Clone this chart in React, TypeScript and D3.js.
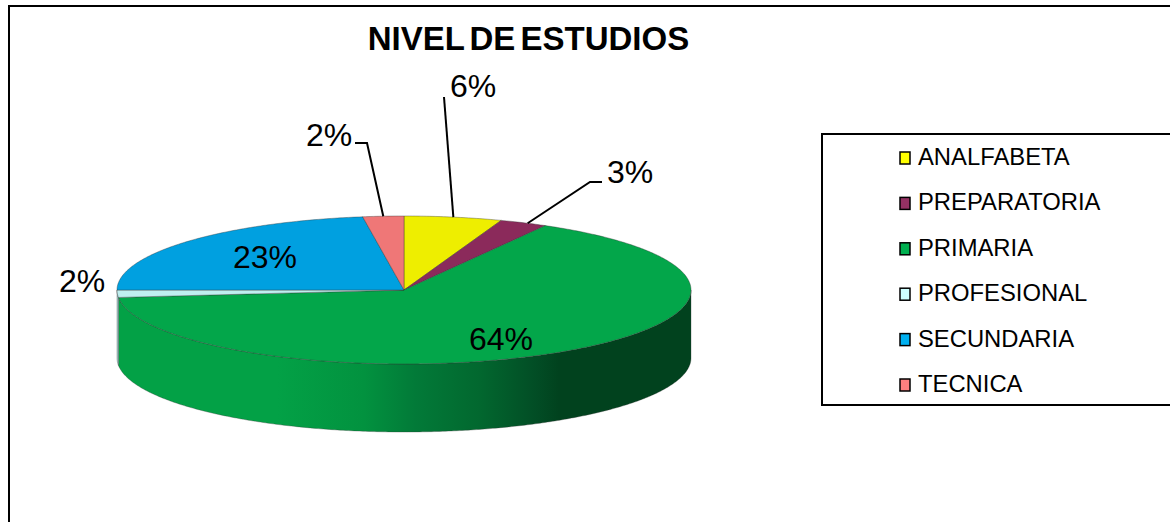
import React from 'react';
import * as d3 from 'd3';

const categories = ['ANALFABETA', 'PREPARATORIA', 'PRIMARIA', 'PROFESIONAL', 'SECUNDARIA', 'TECNICA'];
const values = [5.5, 2.7, 65.2, 1.6, 22.7, 2.3];
const percentLabels = ['6%', '3%', '64%', '2%', '23%', '2%'];
const topColors = ['#EEEE00', '#8B2A5B', '#03A64A', '#BFEFF0', '#00A0E0', '#EF7777'];
const legendColors = ['#FFFF00', '#953163', '#00B050', '#CCFFFF', '#00B0F0', '#FF8080'];

const FONT = '"Liberation Sans", Arial, sans-serif';
const cx = 404, cy = 290, rx = 287, ry = 74, depth = 68;

const pt = (t: number, dy = 0): [number, number] => [cx + rx * Math.sin(t), cy - ry * Math.cos(t) + dy];

const arcPts = (a0: number, a1: number, dy = 0): [number, number][] => {
  const n = Math.max(2, Math.ceil(Math.abs(a1 - a0) / 0.01));
  return d3.range(n + 1).map(i => pt(a0 + ((a1 - a0) * i) / n, dy));
};

const line = d3.line();

const pie = d3.pie<number>().sort(null).value(d => d)(values);

const legendY = d3.scalePoint<string>().domain(categories).range([157, 384]);

const sidePath = (a0: number, a1: number) => {
  const lo = Math.max(a0, Math.PI / 2);
  const hi = Math.min(a1, (3 * Math.PI) / 2);
  if (hi <= lo) return null;
  return line([...arcPts(lo, hi, 0), ...arcPts(hi, lo, depth)]) + 'Z';
};

const labelPos: Record<number, { x: number; y: number; leader?: [number, number][] }> = {
  0: { x: 473, y: 97, leader: [[444, 97]] },
  1: { x: 630, y: 183, leader: [[602, 182], [590, 182]] },
  2: { x: 501, y: 350 },
  3: { x: 82, y: 292 },
  4: { x: 265, y: 268 },
  5: { x: 329, y: 146, leader: [[355, 143], [367, 143]] },
};

const leaderAnchorShift = [0, 0.015, 0, 0, 0, 0];

export default function App() {
  return (
    <svg width={1170} height={522} style={{ position: 'absolute', left: 0, top: 0, display: 'block', background: '#fff' }}>
      <defs>
        <linearGradient id="sideGrad" gradientUnits="userSpaceOnUse" x1={cx - rx} x2={cx + rx} y1={0} y2={0}>
          <stop offset="0" stopColor="#03A146" />
          <stop offset="0.28" stopColor="#03A146" />
          <stop offset="0.43" stopColor="#02923F" />
          <stop offset="0.52" stopColor="#027A38" />
          <stop offset="0.63" stopColor="#02682F" />
          <stop offset="0.73" stopColor="#024D25" />
          <stop offset="0.77" stopColor="#01421E" />
          <stop offset="1" stopColor="#01421E" />
        </linearGradient>
      </defs>

      <rect x={9} y={6} width={1400} height={800} fill="#fff" stroke="#000" strokeWidth={2} />

      <text x={528.5} y={50} textAnchor="middle" fontFamily={FONT} fontWeight="bold" fontSize={33} wordSpacing={-4} fill="#000">
        NIVEL DE ESTUDIOS
      </text>

      {pie.map((d, i) => {
        const p = sidePath(d.startAngle, d.endAngle);
        if (!p) return null;
        return (
          <path key={'s' + i} d={p}
            fill={i === 2 ? 'url(#sideGrad)' : d3.color(topColors[i])!.darker(0.4).formatHex()}
            stroke="#333" strokeOpacity={0.45} strokeWidth={0.7} />
        );
      })}

      {pie.map((d, i) => (
        <path key={'t' + i}
          d={line([[cx, cy], ...arcPts(d.startAngle, d.endAngle)]) + 'Z'}
          fill={topColors[i]} stroke="#333" strokeOpacity={0.55} strokeWidth={0.7} strokeLinejoin="round" />
      ))}

      {pie.map((d, i) => {
        const l = labelPos[i];
        if (!l.leader) return null;
        const rim = pt((d.startAngle + d.endAngle) / 2 + leaderAnchorShift[i]);
        return (
          <path key={'l' + i} d={line([...l.leader, rim])!} fill="none" stroke="#000" strokeWidth={2} />
        );
      })}

      {percentLabels.map((t, i) => (
        <text key={'p' + i} x={labelPos[i].x} y={labelPos[i].y} textAnchor="middle" fontFamily={FONT} fontSize={32} fill="#000">
          {t}
        </text>
      ))}

      <rect x={822} y={134} width={500} height={271} fill="#fff" stroke="#000" strokeWidth={2} />
      {categories.map((c, i) => {
        const y = legendY(c)!;
        return (
          <g key={c}>
            <rect x={900} y={y - 5} width={10} height={12} fill={legendColors[i]} stroke="#000" strokeWidth={1.5} />
            <text x={918} y={y + 8} fontFamily={FONT} fontSize={23.8} fill="#000">{c}</text>
          </g>
        );
      })}
    </svg>
  );
}
